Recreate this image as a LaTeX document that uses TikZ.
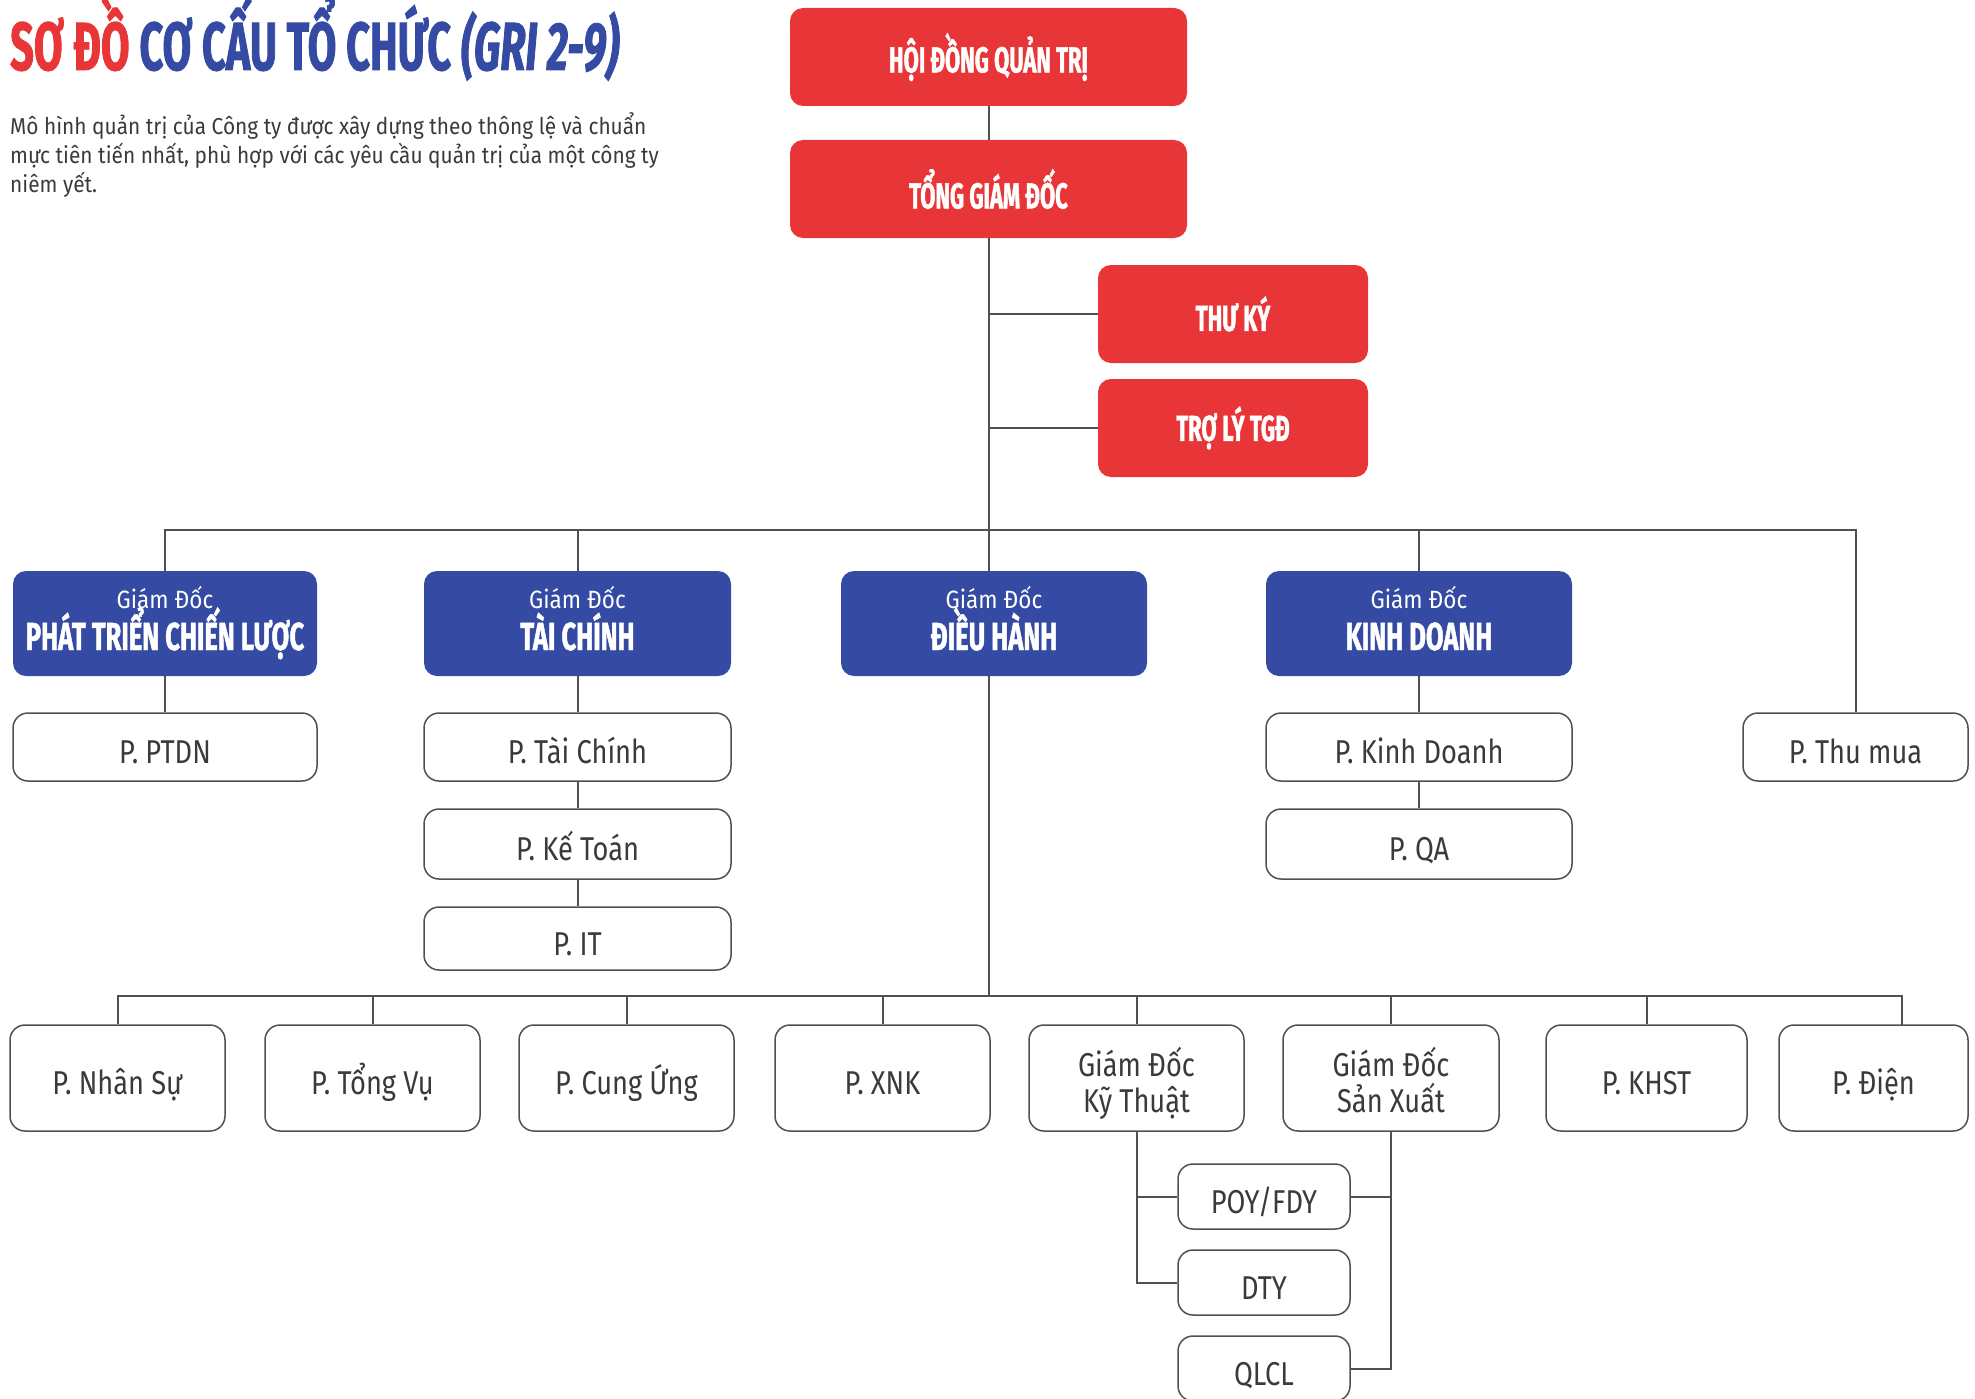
\documentclass[tikz,border=0pt]{standalone}
\usepackage{fontspec}
\setmainfont{Fira Sans}
\newfontfamily\hfont{Fira Sans}[FakeStretch=0.61,FakeBold=1.2]
\newfontfamily\bhfont{Fira Sans}[FakeStretch=0.655,FakeBold=1.2]
\newfontfamily\bfont{Fira Sans}[FakeStretch=0.825]
\newfontfamily\dfont{Fira Sans}[FakeStretch=0.907]
\newfontfamily\gfont{Fira Sans}[FakeStretch=0.9]
\usetikzlibrary{backgrounds}
\definecolor{cRed}{HTML}{E83638}
\definecolor{cBlue}{HTML}{354BA3}
\definecolor{cLine}{HTML}{505050}
\definecolor{cText}{HTML}{3A3A3A}
\tikzset{
  redbox/.style={fill=cRed, rounded corners=13pt, inner sep=0pt, text=white,
    font=\hfont\bfseries\fontsize{36}{40}\selectfont},
  bluebox/.style={fill=cBlue, rounded corners=13pt, inner sep=0pt, minimum height=105pt},
  gtop/.style={anchor=base, inner sep=0pt, text=white, font=\gfont\fontsize{25}{30}\selectfont},
  gbot/.style={anchor=base, inner sep=0pt, text=white, font=\bhfont\bfseries\fontsize{39}{44}\selectfont},
  whitebox/.style={draw=cLine, line width=1.5pt, fill=white, rounded corners=15pt, inner sep=0pt},
  wtext/.style={anchor=base, inner sep=0pt, text=cText, font=\bfont\fontsize{33}{36}\selectfont},
  conn/.style={draw=cLine, line width=2pt},
}
% name, centre, width, height, label
\newcommand\wbox[5]{%
  \node[whitebox, minimum width=#3pt, minimum height=#4pt] (#1) at (#2) {};
  \node[wtext] (#1-t) at ([yshift=-16.5pt]#1.center) {#5};}
\newcommand\wboxii[6]{%
  \node[whitebox, minimum width=#3pt, minimum height=#4pt] (#1) at (#2) {};
  \node[wtext] (#1-t1) at ([yshift=1.5pt]#1.center) {#5};
  \node[wtext] (#1-t2) at ([yshift=-34.5pt]#1.center) {#6};}
\newcommand\bbox[3]{%
  \node[bluebox, minimum width=#2pt] (#1) at (#1x) {};
  \node[gtop] (#1-a) at ([yshift=15.5pt]#1.center) {Giám Đốc};
  \node[gbot] (#1-b) at ([yshift=-26.5pt]#1.center) {#3};}
\begin{document}
\begin{tikzpicture}[x=1pt,y=-1pt]
\useasboundingbox (0,0) rectangle (1975,1399);
% title and text
\node[anchor=base west, inner sep=0pt, font=\hfont\bfseries\fontsize{68}{70}\selectfont] (title) at (10,70)
  {\textcolor{cRed}{SƠ ĐỒ} \textcolor{cBlue}{CƠ CẤU TỔ CHỨC \textit{(GRI 2-9)}}};
\node[anchor=north west, inner sep=0pt, align=left, text=cText, font=\dfont\fontsize{23}{29}\selectfont] (desc) at (10,112)
  {Mô hình quản trị của Công ty được xây dựng theo thông lệ và chuẩn\\
   mực tiên tiến nhất, phù hợp với các yêu cầu quản trị của một công ty\\
   niêm yết.};
% red boxes
\node[redbox, minimum width=397pt, minimum height=98pt] (hdqt) at (988.5,57) {HỘI ĐỒNG QUẢN TRỊ};
\node[redbox, minimum width=397pt, minimum height=98pt] (tgd) at (988.5,189) {TỔNG GIÁM ĐỐC};
\node[redbox, minimum width=270pt, minimum height=98pt] (thuky) at (1233,314) {THƯ KÝ};
\node[redbox, minimum width=270pt, minimum height=98pt] (troly) at (1233,428) {TRỢ LÝ TGĐ};
% blue boxes
\coordinate (ptclx) at (165,623.5);
\coordinate (tcx) at (577.5,623.5);
\coordinate (dhx) at (994,623.5);
\coordinate (kdx) at (1419,623.5);
\bbox{ptcl}{304}{PHÁT TRIỂN CHIẾN LƯỢC}
\bbox{tc}{307}{TÀI CHÍNH}
\bbox{dh}{306}{ĐIỀU HÀNH}
\bbox{kd}{306}{KINH DOANH}
% first level white boxes
\wbox{ptdn}{165,747}{304}{68}{P. PTDN}
\wbox{ptc}{577.5,747}{307}{68}{P. Tài Chính}
\wbox{pkt}{577.5,844}{307}{70}{P. Kế Toán}
\wbox{pit}{577.5,938.5}{307}{63}{P. IT}
\wbox{pkd}{1419,747}{306}{68}{P. Kinh Doanh}
\wbox{pqa}{1419,844}{306}{70}{P. QA}
\wbox{thumua}{1855.5,747}{225}{68}{P. Thu mua}
% lower row
\wbox{ns}{117.5,1078}{215}{106}{P. Nhân Sự}
\wbox{tv}{372.5,1078}{215}{106}{P. Tổng Vụ}
\wbox{cu}{626.5,1078}{215}{106}{P. Cung Ứng}
\wbox{xnk}{882.5,1078}{215}{106}{P. XNK}
\wboxii{gdkt}{1136.5,1078}{215}{106}{Giám Đốc}{Kỹ Thuật}
\wboxii{gdsx}{1391,1078}{216}{106}{Giám Đốc}{Sản Xuất}
\wbox{khst}{1646.5,1078}{201}{106}{P. KHST}
\wbox{dien}{1873.5,1078}{189}{106}{P. Điện}
% sub boxes
\wbox{poy}{1264,1196.5}{172}{65}{POY/FDY}
\wbox{dty}{1264,1282.5}{172}{65}{DTY}
\wbox{qlcl}{1264,1368.5}{172}{65}{QLCL}
% helper coordinates
\coordinate (bus) at (0,530);
\coordinate (lowbus) at (0,996);
\coordinate (dientop) at (1902,1025);
\begin{scope}[on background layer]
\draw[conn] (hdqt.south) -- (tgd.north);
\draw[conn] (tgd.south) -- (tgd.south |- lowbus);
\draw[conn] (tgd.south |- thuky.west) -- (thuky.west);
\draw[conn] (tgd.south |- troly.west) -- (troly.west);
\draw[conn] (ptcl.north) -- (ptcl.north |- bus) -- (bus -| thumua.north) -- (thumua.north);
\draw[conn] (tc.north) -- (tc.north |- bus);
\draw[conn] (kd.north) -- (kd.north |- bus);
\draw[conn] (ptcl.south) -- (ptdn.north);
\draw[conn] (tc.south) -- (ptc.north);
\draw[conn] (ptc.south) -- (pkt.north);
\draw[conn] (pkt.south) -- (pit.north);
\draw[conn] (kd.south) -- (pkd.north);
\draw[conn] (pkd.south) -- (pqa.north);
\draw[conn] (ns.north) -- (ns.north |- lowbus) -- (lowbus -| dientop) -- (dientop);
\foreach \n in {tv,cu,xnk,gdkt,gdsx,khst}{
  \draw[conn] (\n.north) -- (\n.north |- lowbus);
}
\draw[conn] (gdkt.south) |- (dty.west);
\draw[conn] (gdkt.south |- poy.west) -- (poy.west);
\draw[conn] (gdsx.south) |- (qlcl.east);
\draw[conn] (gdsx.south |- poy.east) -- (poy.east);
\end{scope}
\end{tikzpicture}
\end{document}
